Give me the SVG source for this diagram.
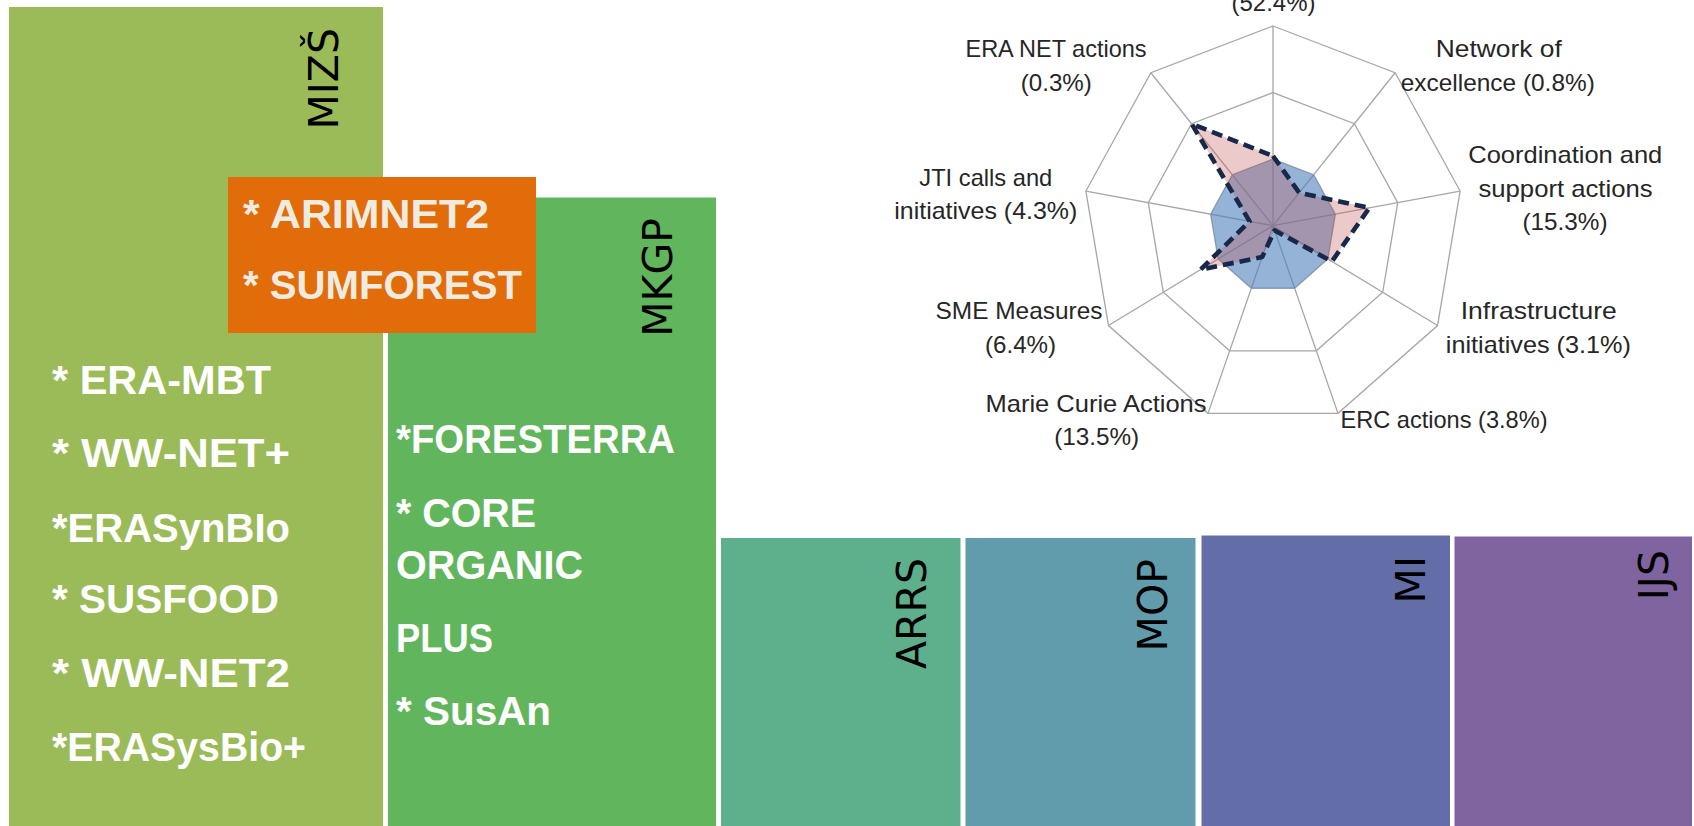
<svg xmlns="http://www.w3.org/2000/svg" width="1694" height="826" viewBox="0 0 1694 826">
<style>
.lbl{font-family:"DejaVu Sans",Verdana,sans-serif;font-size:41px;fill:#000;text-anchor:end}
.item{font-family:"Liberation Sans",Arial,sans-serif;font-weight:bold;font-size:40px;fill:#fff}
.item2{font-family:"Liberation Sans",Arial,sans-serif;font-weight:bold;font-size:40px;fill:#EEECE1}
.ax{font-family:"Liberation Sans",Arial,sans-serif;font-size:24px;fill:#262626;text-anchor:middle}
.grid{fill:none;stroke:#A6A6A6;stroke-width:1.3}
</style>
<rect width="1694" height="826" fill="#fff"/>

<g id="mizs">
<rect x="9" y="7" width="374" height="819" fill="#9BBB59"/>
<text class="lbl" transform="translate(338,28) rotate(-90)">MIZŠ</text>
<text class="item" x="52" y="394.3" textLength="219" lengthAdjust="spacingAndGlyphs">* ERA-MBT</text>
<text class="item" x="52" y="466.7" textLength="238" lengthAdjust="spacingAndGlyphs">* WW-NET+</text>
<text class="item" x="52" y="541.7" textLength="238" lengthAdjust="spacingAndGlyphs">*ERASynBIo</text>
<text class="item" x="52" y="613.3" textLength="227" lengthAdjust="spacingAndGlyphs">* SUSFOOD</text>
<text class="item" x="52" y="686.7" textLength="238" lengthAdjust="spacingAndGlyphs">* WW-NET2</text>
<text class="item" x="52" y="760.7" textLength="254" lengthAdjust="spacingAndGlyphs">*ERASysBio+</text>
</g>

<g id="mkgp">
<rect x="388" y="197.5" width="328" height="628.5" fill="#61B55C"/>
<text class="lbl" transform="translate(672,218) rotate(-90)">MKGP</text>
<text class="item" x="396" y="453.3" textLength="279" lengthAdjust="spacingAndGlyphs">*FORESTERRA</text>
<text class="item" x="396" y="526.7" textLength="140" lengthAdjust="spacingAndGlyphs">* CORE</text>
<text class="item" x="396" y="579.3" textLength="187" lengthAdjust="spacingAndGlyphs">ORGANIC</text>
<text class="item" x="396" y="651.7" textLength="97" lengthAdjust="spacingAndGlyphs">PLUS</text>
<text class="item" x="396" y="725" textLength="155" lengthAdjust="spacingAndGlyphs">* SusAn</text>
</g>

<g id="shared">
<rect x="228" y="177" width="308" height="156" fill="#E36C0A"/>
<text class="item2" x="243" y="227.5" textLength="246" lengthAdjust="spacingAndGlyphs">* ARIMNET2</text>
<text class="item2" x="243" y="299.3" textLength="279" lengthAdjust="spacingAndGlyphs">* SUMFOREST</text>
</g>

<g id="arrs">
<rect x="721" y="538" width="239.5" height="288" fill="#5EB08D"/>
<text class="lbl" transform="translate(926,558) rotate(-90)">ARRS</text>
</g>
<g id="mop">
<rect x="965.5" y="538" width="230" height="288" fill="#619CAD"/>
<text class="lbl" transform="translate(1167,559) rotate(-90)">MOP</text>
</g>
<g id="mi">
<rect x="1201.5" y="535.5" width="248.5" height="290.5" fill="#636EA9"/>
<text class="lbl" transform="translate(1425,556) rotate(-90)">MI</text>
</g>
<g id="ijs">
<rect x="1454.5" y="536.5" width="237.5" height="289.5" fill="#7F64A0"/>
<text class="lbl" transform="translate(1668,550) rotate(-90)">IJS</text>
</g>

<g id="radar">
<polygon class="grid" points="1273,26 1395.13,72.73 1460.11,191.03 1437.54,325.55 1337.98,413.36 1208.02,413.36 1108.46,325.55 1085.89,191.03 1150.87,72.73"/>
<polygon class="grid" points="1273,92.57 1354.42,123.72 1397.74,202.59 1382.69,292.27 1316.32,350.81 1229.68,350.81 1163.31,292.27 1148.26,202.59 1191.58,123.72"/>
<polygon class="grid" points="1273,159.13 1313.71,174.71 1335.37,214.14 1327.85,258.98 1294.66,288.25 1251.34,288.25 1218.15,258.98 1210.63,214.14 1232.29,174.71"/>
<g class="grid">
<line x1="1273" y1="225.7" x2="1273" y2="26"/>
<line x1="1273" y1="225.7" x2="1395.13" y2="72.73"/>
<line x1="1273" y1="225.7" x2="1460.11" y2="191.03"/>
<line x1="1273" y1="225.7" x2="1437.54" y2="325.55"/>
<line x1="1273" y1="225.7" x2="1337.98" y2="413.36"/>
<line x1="1273" y1="225.7" x2="1208.02" y2="413.36"/>
<line x1="1273" y1="225.7" x2="1108.46" y2="325.55"/>
<line x1="1273" y1="225.7" x2="1085.89" y2="191.03"/>
<line x1="1273" y1="225.7" x2="1150.87" y2="72.73"/>
</g>
<polygon points="1273,159.13 1313.71,174.71 1335.37,214.14 1327.85,258.98 1294.66,288.25 1251.34,288.25 1218.15,258.98 1210.63,214.14 1232.29,174.71" fill="#4F81BD" fill-opacity="0.6"/>
<polygon points="1273,156 1299.26,192.81 1369.36,207.84 1331.9,261.45 1274.62,230.39 1262.15,257.04 1200.6,269.63 1249.61,221.37 1191.58,123.72" fill="#C0504D" fill-opacity="0.3" stroke="#17284A" stroke-width="4.6" stroke-dasharray="11 6" stroke-linejoin="round"/>
</g>

<g id="axis-labels">
<text class="ax" x="1273.5" y="11" textLength="84" lengthAdjust="spacingAndGlyphs">(52.4%)</text>
<text class="ax" x="1056" y="57.3" textLength="181" lengthAdjust="spacingAndGlyphs">ERA NET actions</text>
<text class="ax" x="1056.3" y="90.7" textLength="71" lengthAdjust="spacingAndGlyphs">(0.3%)</text>
<text class="ax" x="1498.8" y="57.3" textLength="126" lengthAdjust="spacingAndGlyphs">Network of</text>
<text class="ax" x="1497.8" y="91" textLength="194" lengthAdjust="spacingAndGlyphs">excellence (0.8%)</text>
<text class="ax" x="1565.3" y="163.3" textLength="194" lengthAdjust="spacingAndGlyphs">Coordination and</text>
<text class="ax" x="1565.5" y="196.7" textLength="174" lengthAdjust="spacingAndGlyphs">support actions</text>
<text class="ax" x="1565" y="230" textLength="85" lengthAdjust="spacingAndGlyphs">(15.3%)</text>
<text class="ax" x="1538.7" y="319.3" textLength="156" lengthAdjust="spacingAndGlyphs">Infrastructure</text>
<text class="ax" x="1538.3" y="353" textLength="185" lengthAdjust="spacingAndGlyphs">initiatives (3.1%)</text>
<text class="ax" x="1444" y="428" textLength="207" lengthAdjust="spacingAndGlyphs">ERC actions (3.8%)</text>
<text class="ax" x="1096" y="412" textLength="221" lengthAdjust="spacingAndGlyphs">Marie Curie Actions</text>
<text class="ax" x="1096.7" y="445" textLength="85" lengthAdjust="spacingAndGlyphs">(13.5%)</text>
<text class="ax" x="1019" y="319.3" textLength="167" lengthAdjust="spacingAndGlyphs">SME Measures</text>
<text class="ax" x="1020.5" y="352.5" textLength="71" lengthAdjust="spacingAndGlyphs">(6.4%)</text>
<text class="ax" x="985.8" y="186" textLength="133" lengthAdjust="spacingAndGlyphs">JTI calls and</text>
<text class="ax" x="985.8" y="218.5" textLength="183" lengthAdjust="spacingAndGlyphs">initiatives (4.3%)</text>
</g>
</svg>
